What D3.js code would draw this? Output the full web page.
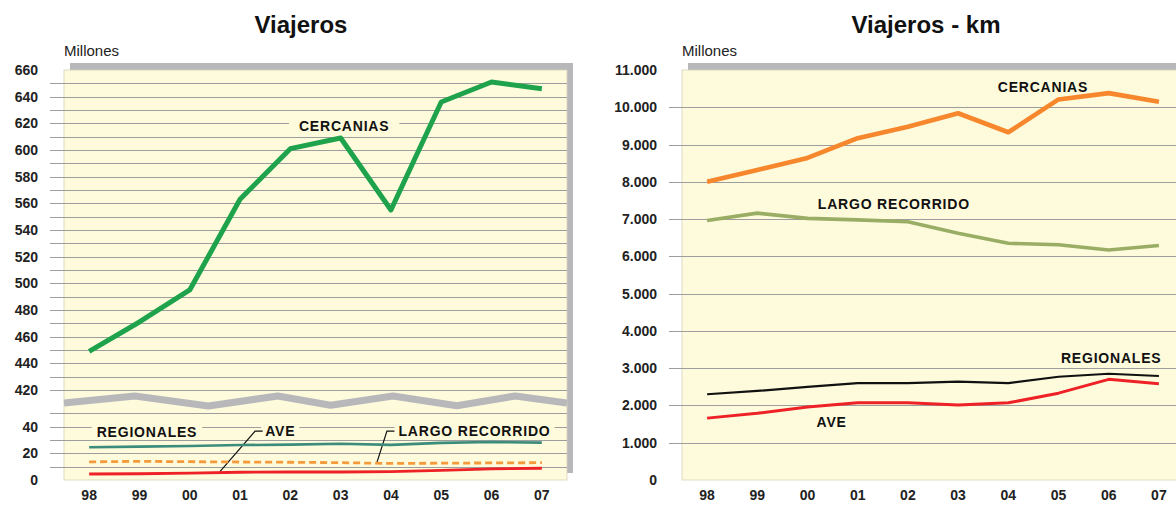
<!DOCTYPE html>
<html>
<head>
<meta charset="utf-8">
<script src="https://cdn.jsdelivr.net/npm/d3@7"></script>
<style>
  body { margin: 0; background: #fff; }
  svg { display: block; font-family: "Liberation Sans", Arial, sans-serif; }
</style>
</head>
<body>
<div id="chart"></div>
<script>
// data (millones)
var years = ["98", "99", "00", "01", "02", "03", "04", "05", "06", "07"];

// Viajeros
var cercanias = [449, 471, 495, 563, 601, 609, 555, 636, 651, 646];
var regionales = [24.5, 25, 25.5, 26.2, 26.5, 27.2, 26.3, 27.8, 28.5, 28];
var largoRecorrido = [13.6, 14, 13.7, 13.5, 13.3, 13, 12.4, 12.6, 12.8, 13];
var ave = [4.5, 4.7, 5.2, 5.8, 6, 6, 6.3, 7.2, 8.3, 8.8];

// Viajeros - km
var cercaniasKm = [8000, 8320, 8640, 9170, 9480, 9840, 9330, 10210, 10380, 10150];
var largoRecorridoKm = [6960, 7160, 7020, 6980, 6930, 6620, 6350, 6310, 6170, 6290];
var regionalesKm = [2300, 2390, 2500, 2600, 2600, 2640, 2600, 2770, 2850, 2790];
var aveKm = [1660, 1790, 1960, 2070, 2070, 2010, 2070, 2330, 2700, 2580];

// tick labels
var leftTopTicks = [420, 440, 460, 480, 500, 520, 540, 560, 580, 600, 620, 640, 660];
var leftBottomTicks = [0, 20, 40];
var rightTicks = [0, 1000, 2000, 3000, 4000, 5000, 6000, 7000, 8000, 9000, 10000, 11000];

var W = 1176, H = 508;
var svg = d3.select("#chart").append("svg")
    .attr("width", W)
    .attr("height", H);

var fmtEs = function(v) {
  return v === 0 ? "0" : d3.format(",")(v).replace(/,/g, ".");
};

var plotFill = "#fdfbdc",
    gridColor = "#9d9d9d",
    shadowColor = "#b8b8ba";

function panel(left, right, top, bottom, title, titleX) {
  // shadow + yellow plot area
  svg.append("rect")
    .attr("x", left + 6).attr("y", top - 7)
    .attr("width", right - left).attr("height", bottom - top)
    .attr("fill", shadowColor);
  svg.append("rect")
    .attr("x", left).attr("y", top)
    .attr("width", right - left).attr("height", bottom - top)
    .attr("fill", plotFill)
    .attr("stroke", "#d6d3bb")
    .attr("stroke-width", 0.8);

  svg.append("text")
    .attr("x", titleX).attr("y", 33)
    .attr("text-anchor", "middle")
    .style("font-size", "24px")
    .style("font-weight", "bold")
    .attr("fill", "#111")
    .text(title);

  svg.append("text")
    .attr("x", left).attr("y", 56)
    .style("font-size", "15px")
    .attr("fill", "#222")
    .text("Millones");
}

function grid(g, yScale, values, x0, x1) {
  g.selectAll(null)
    .data(values)
    .enter()
    .append("line")
    .attr("x1", x0).attr("x2", x1)
    .attr("y1", function(d) { return Math.round(yScale(d)) + 0.5; })
    .attr("y2", function(d) { return Math.round(yScale(d)) + 0.5; })
    .attr("stroke", gridColor)
    .attr("stroke-width", 1);
}

function yLabels(scale, ticks, xPos) {
  var ax = svg.append("g")
    .attr("transform", "translate(" + xPos + ",0)")
    .call(d3.axisLeft(scale).tickValues(ticks).tickSize(0).tickPadding(0).tickFormat(fmtEs));
  ax.select(".domain").remove();
  ax.selectAll("text")
    .style("font-size", "14px")
    .style("font-weight", "bold")
    .style("font-family", "Liberation Sans, Arial, sans-serif")
    .attr("fill", "#222");
}

function xLabels(scale) {
  var ax = svg.append("g")
    .attr("transform", "translate(0,490)")
    .call(d3.axisBottom(scale).tickSize(0).tickPadding(0));
  ax.select(".domain").remove();
  ax.selectAll("text")
    .style("font-size", "14px")
    .style("font-weight", "bold")
    .style("font-family", "Liberation Sans, Arial, sans-serif")
    .attr("fill", "#222");
}

function seriesLine(g, xs, yScale, values, color, width, dash) {
  var line = d3.line()
    .x(function(d, i) { return xs(years[i]) + xs.bandwidth() / 2; })
    .y(function(d) { return yScale(d); });
  g.append("path")
    .datum(values)
    .attr("d", line)
    .attr("fill", "none")
    .attr("stroke", color)
    .attr("stroke-width", width)
    .attr("stroke-linejoin", "round")
    .attr("stroke-dasharray", dash || null);
}

function label(g, x, y, text, anchor, pad) {
  var t = g.append("text")
    .attr("x", x).attr("y", y)
    .attr("text-anchor", anchor)
    .attr("dominant-baseline", "central")
    .style("font-size", "14px")
    .style("font-weight", "bold")
    .style("letter-spacing", "0.8px")
    .attr("fill", "#111")
    .text(text);
  if (pad) {
    var b = t.node().getBBox();
    g.insert("rect", function() { return t.node(); })
      .attr("x", b.x - pad).attr("y", b.y + 1)
      .attr("width", b.width + pad * 2).attr("height", b.height - 2)
      .attr("fill", plotFill);
  }
}

// ---------- left: Viajeros ----------
var L = {left: 64, right: 567, top: 70, bottom: 480};
panel(L.left, L.right, L.top, L.bottom, "Viajeros", 301);

var x1 = d3.scaleBand().domain(years).range([L.left, L.right]);
var idx1 = d3.scaleLinear().domain([0, 9])
    .range([x1(years[0]) + x1.bandwidth() / 2, x1(years[9]) + x1.bandwidth() / 2]);

// broken axis: two segments with the same px per unit
var yTop = d3.scaleLinear().domain([410, 660]).range([403.3, L.top]);
var yBot = d3.scaleLinear().domain([0, 50]).range([L.bottom, 413.3]);

var gl = svg.append("g");
grid(gl, yTop, d3.range(420, 660, 10), 50, L.right);
grid(gl, yBot, d3.range(10, 60, 10), 50, L.right);

// zigzag break marker (x in plot fraction, y in upper-scale units)
var breakX = [0, 0.141, 0.287, 0.425, 0.530, 0.654, 0.781, 0.897, 1];
var breakY = [410.2, 415.5, 408, 415.5, 408.5, 415.5, 408.2, 415.5, 410.2];
var bx = d3.scaleLinear().domain([0, 1]).range([L.left, L.right]);
gl.append("path")
  .datum(breakX)
  .attr("d", d3.line().x(function(d) { return bx(d); }).y(function(d, i) { return yTop(breakY[i]); }))
  .attr("fill", "none")
  .attr("stroke", shadowColor)
  .attr("stroke-width", 7)
  .attr("stroke-linejoin", "round");

// labels on the grid (with background to break gridlines)
label(gl, idx1(5.07), yTop(618), "CERCANIAS", "middle", 10);
label(gl, idx1(0.15), yBot(36.3), "REGIONALES", "start", 5);
label(gl, idx1(3.5), yBot(36.8), "AVE", "start", 4);
label(gl, idx1(6.15), yBot(36.8), "LARGO RECORRIDO", "start", 4);

// leader lines
var leader = d3.line().x(function(d) { return idx1(d[0]); }).y(function(d) { return yBot(d[1]); });
gl.append("path")
  .attr("d", leader([[2.6, 6.2], [3.3, 36.7], [3.45, 36.7]]))
  .attr("fill", "none").attr("stroke", "#111").attr("stroke-width", 1.2);
gl.append("path")
  .attr("d", leader([[5.72, 13], [5.92, 36.7], [6.07, 36.7]]))
  .attr("fill", "none").attr("stroke", "#111").attr("stroke-width", 1.2);

seriesLine(gl, x1, yBot, regionales, "#3b8c7b", 2.6);
seriesLine(gl, x1, yBot, largoRecorrido, "#f59a3a", 2.8, "7,4");
seriesLine(gl, x1, yBot, ave, "#ee2127", 2.8);
seriesLine(gl, x1, yTop, cercanias, "#1ea24b", 5);

yLabels(yTop, leftTopTicks, 38);
yLabels(yBot, leftBottomTicks, 38);
xLabels(x1);

// ---------- right: Viajeros - km ----------
var R = {left: 682, right: 1184, top: 70, bottom: 480};
panel(R.left, R.right, R.top, R.bottom, "Viajeros - km", 926);

var x2 = d3.scaleBand().domain(years).range([R.left, R.right]);
var idx2 = d3.scaleLinear().domain([0, 9])
    .range([x2(years[0]) + x2.bandwidth() / 2, x2(years[9]) + x2.bandwidth() / 2]);
var y2 = d3.scaleLinear().domain([0, 11000]).range([R.bottom, R.top]);

var gr = svg.append("g");
grid(gr, y2, d3.range(1000, 11000, 1000), 669, W);

seriesLine(gr, x2, y2, largoRecorridoKm, "#9aad64", 3.6);
seriesLine(gr, x2, y2, regionalesKm, "#111111", 2.2);
seriesLine(gr, x2, y2, aveKm, "#ee2127", 3);
seriesLine(gr, x2, y2, cercaniasKm, "#f7872c", 4.6);

label(gr, idx2(6.69), y2(10550), "CERCANIAS", "middle", 0);
label(gr, idx2(3.72), y2(7400), "LARGO RECORRIDO", "middle", 0);
label(gr, idx2(8.05), y2(3270), "REGIONALES", "middle", 0);
label(gr, idx2(2.48), y2(1560), "AVE", "middle", 0);

yLabels(y2, rightTicks, 657);
xLabels(x2);
</script>
</body>
</html>
